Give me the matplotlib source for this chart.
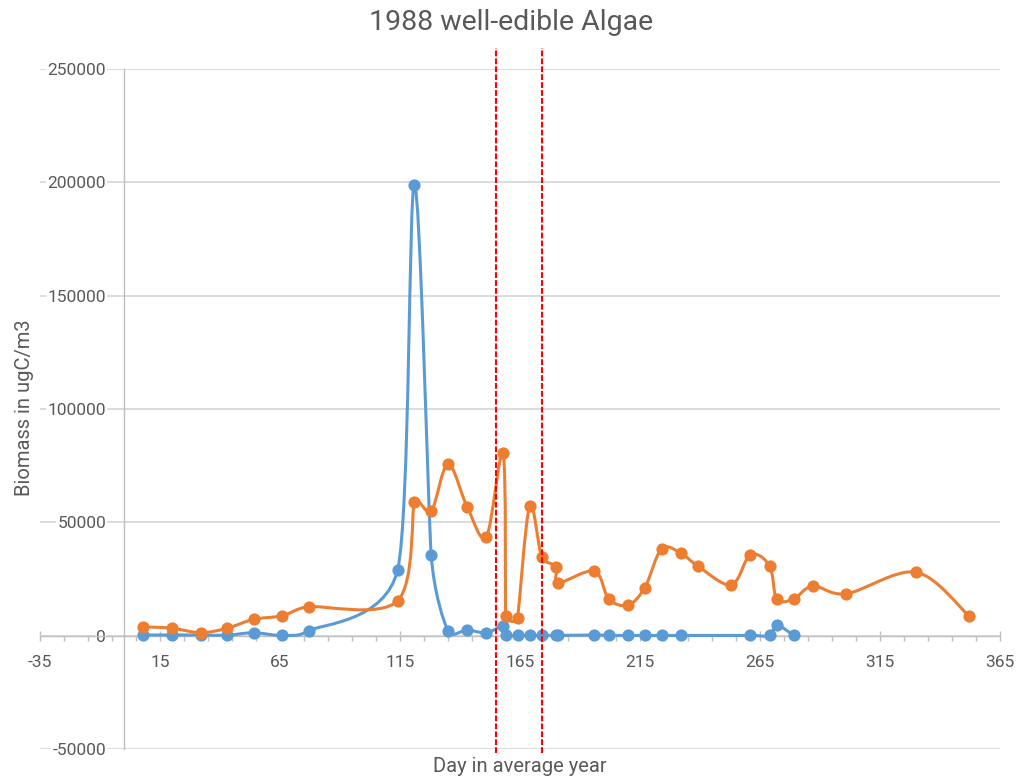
import numpy as np
import matplotlib
matplotlib.use("Agg")
import matplotlib.pyplot as plt
from matplotlib.path import Path
from matplotlib.patches import PathPatch
from matplotlib.ticker import FixedLocator, FormatStrFormatter

# sampling days (day of year) and biomass values
blue_days = [8, 20, 32, 43, 54, 66, 77, 114, 121, 128, 135, 143, 151, 158, 159,
             164, 169, 174, 180, 181, 196, 202, 210, 217, 224, 232, 261, 269, 272, 279]
blue_vals = [300, 300, 300, 200, 1300, 100, 2200, 29000, 199000, 35500, 2100, 2500, 1300, 4300, 100,
             100, 100, 100, 100, 100, 300, 100, 100, 100, 100, 100, 100, 100, 4700, 100]

orange_days = [8, 20, 32, 43, 54, 66, 77, 114, 121, 128, 135, 143, 151, 158, 159,
               164, 169, 174, 180, 181, 196, 202, 210, 217, 224, 232, 239, 253, 261, 269,
               272, 279, 287, 301, 330, 352]
orange_vals = [3900, 3300, 1300, 3300, 7200, 8800, 12800, 15400, 59100, 55000, 75800, 56800, 43700, 80500, 8700,
               7900, 57200, 34900, 30400, 23400, 28500, 16200, 13500, 21200, 38300, 36400, 30800, 22400, 35700, 30800,
               16200, 16200, 21900, 18500, 28000, 8800]

event_days = [155, 174]

x_ticks = np.arange(-35, 366, 50)
x_minor = np.arange(-35, 366, 10)
y_ticks = np.arange(-50000, 250001, 50000)

BLUE = "#5B9BD5"
ORANGE = "#ED7D31"
TEXT = "#595959"

plt.rcParams["font.family"] = ["Roboto", "DejaVu Sans"]
plt.rcParams["axes.unicode_minus"] = False


def smooth_path(ax, xs, ys):
    """Excel-like smoothed line: cubic beziers with limited tangents, in pixel space."""
    pts = ax.transData.transform(np.column_stack([xs, ys]))
    n = len(pts)

    def tangent(i):
        p_prev = pts[max(i - 1, 0)]
        p_next = pts[min(i + 1, n - 1)]
        t = (p_next - p_prev) / 6.0
        dists = [np.linalg.norm(pts[i] - p_prev), np.linalg.norm(p_next - pts[i])]
        dists = [d for d in dists if d > 0]
        lim = min(dists) / 2.0
        length = np.linalg.norm(t)
        if length > lim and length > 0:
            t = t * lim / length
        return t

    verts = [pts[0]]
    codes = [Path.MOVETO]
    for i in range(n - 1):
        verts += [pts[i] + tangent(i), pts[i + 1] - tangent(i + 1), pts[i + 1]]
        codes += [Path.CURVE4] * 3
    verts = ax.transData.inverted().transform(np.array(verts))
    return Path(verts, codes)


fig = plt.figure(figsize=(10.17, 7.82), dpi=100)
ax = fig.add_axes([40 / 1017, 33 / 782, 960 / 1017, 680 / 782])
ax.set_xlim(-35, 365)
ax.set_ylim(-50000, 250000)

for side in ["top", "right"]:
    ax.spines[side].set_visible(False)
ax.spines["left"].set_position(("data", 0))
ax.spines["bottom"].set_position(("data", 0))
for side in ["left", "bottom"]:
    ax.spines[side].set_color("#BFBFBF")
    ax.spines[side].set_linewidth(1.0)

ax.xaxis.set_major_locator(FixedLocator(x_ticks))
ax.xaxis.set_minor_locator(FixedLocator(x_minor))
ax.xaxis.set_major_formatter(FormatStrFormatter("%d"))
ax.yaxis.set_major_locator(FixedLocator(y_ticks))
ax.yaxis.set_major_formatter(FormatStrFormatter("%d"))

ax.tick_params(axis="x", which="major", direction="inout", length=7, width=1,
               color="#BFBFBF", labelsize=12.5, labelcolor=TEXT, pad=10.5)
ax.tick_params(axis="x", which="minor", direction="out", length=3.5, width=1, color="#BFBFBF")
ax.tick_params(axis="y", which="major", length=0, labelsize=12.5, labelcolor=TEXT, pad=13)

ax.yaxis.grid(True, color="#D9D9D9", linewidth=1.3)
ax.set_axisbelow(True)
for lab in ax.get_yticklabels():
    lab.set_bbox(dict(facecolor="white", edgecolor="none", pad=1))

fig.canvas.draw()

# series: smooth line + markers (orange drawn last, on top)
for xs, ys, color in [(blue_days, blue_vals, BLUE), (orange_days, orange_vals, ORANGE)]:
    path = smooth_path(ax, xs, ys)
    ax.add_patch(PathPatch(path, facecolor="none", edgecolor=color, lw=2.2,
                           joinstyle="round", capstyle="round", zorder=3))
    ax.plot(xs, ys, linestyle="none", marker="o", markersize=8.8, color=color,
            markeredgewidth=0, zorder=3)

# event markers
for d in event_days:
    ax.axvline(d, ymin=(749 - 753) / 680, ymax=(749 - 48) / 680, color="#FF0000",
               lw=1.5, linestyle=(0, (2.8, 1.0)), clip_on=False, zorder=5)

fig.text(0.5025, 1 - 22 / 782, "1988 well-edible Algae", ha="center", va="center",
         fontsize=20.5, color=TEXT)
fig.text(0.511, 16 / 782, "Day in average year", ha="center", va="center",
         fontsize=14.5, color=TEXT)
fig.text(25 / 1017, 1 - 408 / 782, "Biomass in ugC/m3", ha="center", va="center",
         rotation=90, fontsize=14.5, color=TEXT,
         family=["Liberation Sans Narrow", "Roboto", "DejaVu Sans"])

fig.savefig("out.png", dpi=100)
